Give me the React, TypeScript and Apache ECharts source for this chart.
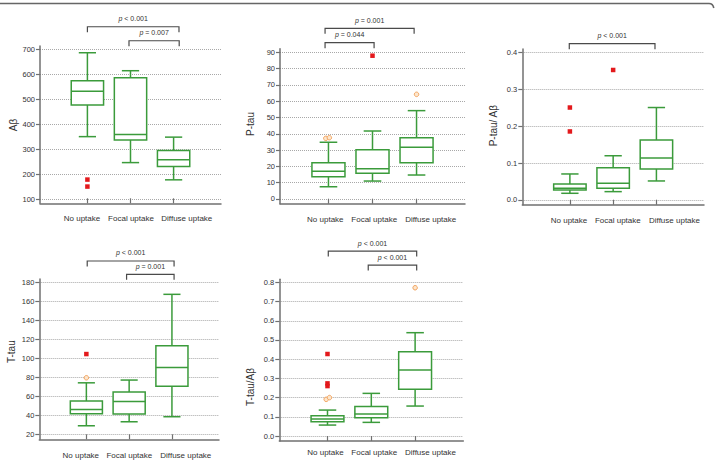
import React, { useEffect, useRef } from 'react';
import * as echarts from 'echarts';

// ---------- data ----------
const categories = ['No uptake', 'Focal uptake', 'Diffuse uptake'];
const categoryPositions = [1, 2, 3];

// box stats per category: [lower whisker, Q1, median, Q3, upper whisker]
const abStats = [
  [350, 477, 532, 574, 686],
  [246, 337, 359, 586, 614],
  [177, 230, 257, 294, 348],
];
const abTicks = [100, 200, 300, 400, 500, 600, 700];
const abExtremes = [[1, 178], [1, 150]];
const abOutliers: number[][] = [];
const abBrackets = [[1.0, 3.125, 790], [1.965, 3.13, 734]];
const abPValues = ['< 0.001', '= 0.007'];

const ptauStats = [
  [7.5, 13.7, 17.0, 22.3, 34.8],
  [11.0, 15.8, 18.6, 30.2, 41.7],
  [14.7, 22.3, 31.7, 37.6, 54.2],
];
const ptauTicks = [0, 10, 20, 30, 40, 50, 60, 70, 80, 90];
const ptauExtremes = [[2, 87.9]];
const ptauOutliers = [[0.94, 37.2], [1.02, 37.6], [3, 64.2]];
const ptauBrackets = [[0.923, 2.945, 104.7], [0.923, 2.036, 95.9]];
const ptauPValues = ['= 0.001', '= 0.044'];

const ptauAbStats = [
  [0.018, 0.027, 0.032, 0.043, 0.0705],
  [0.0225, 0.032, 0.045, 0.0875, 0.12],
  [0.0515, 0.084, 0.114, 0.163, 0.251],
];
const ptauAbTicks = [0, 0.1, 0.2, 0.3, 0.4];
const ptauAbExtremes = [[1, 0.251], [1, 0.186], [2, 0.353]];
const ptauAbOutliers: number[][] = [];
const ptauAbBrackets = [[0.986, 2.967, 0.4244]];
const ptauAbPValues = ['< 0.001'];

const ttauStats = [
  [29.4, 41.9, 46.6, 55.3, 74.5],
  [33.6, 41.7, 55.0, 64.8, 77.4],
  [38.9, 71.0, 90.7, 113.4, 167.4],
];
const ttauTicks = [20, 40, 60, 80, 100, 120, 140, 160, 180];
const ttauExtremes = [[1, 104.7]];
const ttauOutliers = [[1, 79.8]];
const ttauBrackets = [[1.02, 3.05, 202.4], [1.94, 3.05, 188.4]];
const ttauPValues = ['< 0.001', '= 0.001'];

const ttauAbStats = [
  [0.057, 0.0745, 0.0885, 0.106, 0.135],
  [0.071, 0.095, 0.115, 0.153, 0.222],
  [0.156, 0.243, 0.344, 0.439, 0.538],
];
const ttauAbTicks = [0, 0.1, 0.2, 0.3, 0.4, 0.5, 0.6, 0.7, 0.8];
const ttauAbExtremes = [[1, 0.427], [1, 0.274], [1, 0.26]];
const ttauAbOutliers = [[0.97, 0.191], [1.045, 0.2], [3, 0.772]];
const ttauAbBrackets = [[1.018, 3.036, 0.963], [1.93, 3.036, 0.89]];
const ttauAbPValues = ['< 0.001', '< 0.001'];

// ---------- style / layout ----------
const FONT = '"Liberation Sans", Arial, sans-serif';
const GREEN = '#3b9b3b';
const AXIS_C = '#707070';
const GRID_C = '#a8a8a8';
const TEXT_C = '#333333';
const BRACKET_C = '#4a4a4a';
const X_MIN = -0.1;
const X_MAX = 4.1;
const BOX_W = 0.75;
const CAP_W = 0.4;

const panels = [
  { title: 'Aβ', stats: abStats, ticks: abTicks, extremes: abExtremes, outliers: abOutliers,
    brackets: abBrackets, pvals: abPValues, decimals: 0,
    grid: [40, 46, 181, 157.3], yRange: [83, 713], titlePos: [13.3, 125],
    catLabelX: [82, 131, 186.8], catLabelY: 218.3 },
  { title: 'P-tau', stats: ptauStats, ticks: ptauTicks, extremes: ptauExtremes, outliers: ptauOutliers,
    brackets: ptauBrackets, pvals: ptauPValues, decimals: 0,
    grid: [280, 48.7, 185, 155], yRange: [-2.9, 92.2], titlePos: [250, 124],
    catLabelX: [325.3, 374.2, 430.7], catLabelY: 219.3 },
  { title: 'P-tau/ Aβ', stats: ptauAbStats, ticks: ptauAbTicks, extremes: ptauAbExtremes, outliers: ptauAbOutliers,
    brackets: ptauAbBrackets, pvals: ptauAbPValues, decimals: 1,
    grid: [522.3, 49, 181.7, 155.7], yRange: [-0.013, 0.41], titlePos: [493.3, 125.7],
    catLabelX: [569, 617.8, 674.5], catLabelY: 220 },
  { title: 'T-tau', stats: ttauStats, ticks: ttauTicks, extremes: ttauExtremes, outliers: ttauOutliers,
    brackets: ttauBrackets, pvals: ttauPValues, decimals: 0,
    grid: [39.3, 279, 179.7, 160.3], yRange: [15.2, 183.5], titlePos: [11.7, 351.7],
    catLabelX: [80.8, 129.3, 185.8], catLabelY: 455 },
  { title: 'T-tau/Aβ', stats: ttauAbStats, ticks: ttauAbTicks, extremes: ttauAbExtremes, outliers: ttauAbOutliers,
    brackets: ttauAbBrackets, pvals: ttauAbPValues, decimals: 1,
    grid: [279.3, 279.3, 184, 161.7], yRange: [-0.026, 0.816], titlePos: [250, 387],
    catLabelX: [325.5, 374.2, 430.5], catLabelY: 452.7 },
];

function renderBox(params: any, api: any) {
  const x = api.value(0);
  const lo = api.coord([x, api.value(1)]);
  const q1 = api.coord([x, api.value(2)]);
  const med = api.coord([x, api.value(3)]);
  const q3 = api.coord([x, api.value(4)]);
  const hi = api.coord([x, api.value(5)]);
  const bw = api.size([BOX_W, 0], [x, 0])[0];
  const cw = api.size([CAP_W, 0], [x, 0])[0];
  const cx = med[0];
  const st = { stroke: GREEN, lineWidth: 1.5, fill: 'none' };
  return {
    type: 'group',
    children: [
      { type: 'line', shape: { x1: cx, y1: hi[1], x2: cx, y2: q3[1] }, style: st },
      { type: 'line', shape: { x1: cx, y1: q1[1], x2: cx, y2: lo[1] }, style: st },
      { type: 'line', shape: { x1: cx - cw / 2, y1: hi[1], x2: cx + cw / 2, y2: hi[1] }, style: st },
      { type: 'line', shape: { x1: cx - cw / 2, y1: lo[1], x2: cx + cw / 2, y2: lo[1] }, style: st },
      { type: 'rect', shape: { x: cx - bw / 2, y: q3[1], width: bw, height: q1[1] - q3[1] },
        style: { stroke: GREEN, lineWidth: 1.5, fill: '#ffffff' } },
      { type: 'line', shape: { x1: cx - bw / 2, y1: med[1], x2: cx + bw / 2, y2: med[1] }, style: st },
    ],
  };
}

function makeBracketRenderer(pvals: string[]) {
  return (params: any, api: any) => {
    const y = api.value(2);
    const p1 = api.coord([api.value(0), y]);
    const p2 = api.coord([api.value(1), y]);
    const T = 5.5;
    return {
      type: 'group',
      children: [
        { type: 'polyline',
          shape: { points: [[p1[0], p1[1] + T], [p1[0], p1[1]], [p2[0], p2[1]], [p2[0], p2[1] + T]] },
          style: { stroke: BRACKET_C, lineWidth: 1.2, fill: 'none' } },
        { type: 'text', x: (p1[0] + p2[0]) / 2, y: p1[1] - 8,
          style: {
            text: '{i|p} ' + pvals[params.dataIndex],
            rich: { i: { fontStyle: 'italic', fontSize: 7, fontFamily: FONT, fill: TEXT_C } },
            fontSize: 7, fontFamily: FONT, fill: TEXT_C, align: 'center', verticalAlign: 'middle',
          } },
      ],
    };
  };
}

function buildOption() {
  const grid: any[] = [];
  const xAxis: any[] = [];
  const yAxis: any[] = [];
  const series: any[] = [];
  const graphic: any[] = [];
  const axisLineStyle = { color: AXIS_C, width: 1.5 };

  panels.forEach((p, i) => {
    grid.push({ left: p.grid[0], top: p.grid[1], width: p.grid[2], height: p.grid[3] });
    xAxis.push({
      type: 'value', gridIndex: i, min: X_MIN, max: X_MAX,
      axisLine: { show: true, onZero: false, lineStyle: axisLineStyle },
      axisTick: { show: true, inside: true, length: 5, customValues: categoryPositions,
        lineStyle: { color: AXIS_C, width: 1.2 } },
      axisLabel: { show: false },
      splitLine: { show: false },
    });
    yAxis.push({
      type: 'value', gridIndex: i, min: p.yRange[0], max: p.yRange[1],
      axisLine: { show: true, onZero: false, lineStyle: axisLineStyle },
      axisTick: { show: true, length: 4, customValues: p.ticks, lineStyle: { color: AXIS_C, width: 1.2 } },
      axisLabel: { show: true, customValues: p.ticks, formatter: (v: number) => v.toFixed(p.decimals),
        fontSize: 7.5, color: TEXT_C, margin: 5, fontFamily: FONT },
      splitLine: { show: true, lineStyle: { type: 'dotted', color: GRID_C, width: 1 } },
    });
    series.push({
      type: 'custom', xAxisIndex: i, yAxisIndex: i, silent: true, z: 3,
      data: p.stats.map((s, k) => [categoryPositions[k], ...s]),
      encode: { x: 0, y: [1, 2, 3, 4, 5] },
      renderItem: renderBox,
    });
    series.push({
      type: 'scatter', xAxisIndex: i, yAxisIndex: i, silent: true, z: 4,
      symbol: 'rect', symbolSize: 4.5, data: p.extremes,
      itemStyle: { color: '#e3191c', opacity: 1 },
    });
    series.push({
      type: 'scatter', xAxisIndex: i, yAxisIndex: i, silent: true, z: 4,
      symbol: 'circle', symbolSize: 4.5, data: p.outliers,
      itemStyle: { color: '#fde6cc', borderColor: '#f2a35e', borderWidth: 1, opacity: 1 },
    });
    series.push({
      type: 'custom', xAxisIndex: i, yAxisIndex: i, silent: true, z: 5, clip: false,
      data: p.brackets, encode: { x: [0, 1], y: 2 },
      renderItem: makeBracketRenderer(p.pvals),
    });
    graphic.push({
      type: 'text', x: p.titlePos[0], y: p.titlePos[1], rotation: Math.PI / 2, silent: true,
      style: { text: p.title, fontSize: 10, fontFamily: FONT, fill: TEXT_C, align: 'center', verticalAlign: 'middle' },
    });
    categories.forEach((name, k) => {
      graphic.push({
        type: 'text', x: p.catLabelX[k], y: p.catLabelY, silent: true,
        style: { text: name, fontSize: 8, fontFamily: FONT, fill: TEXT_C, align: 'center', verticalAlign: 'middle' },
      });
    });
  });

  graphic.push({ type: 'line', silent: true, shape: { x1: 0, y1: 3.5, x2: 709, y2: 3.5 },
    style: { stroke: '#666', lineWidth: 1.6 } });
  graphic.push({ type: 'bezierCurve', silent: true,
    shape: { x1: 709, y1: 3.5, cpx1: 713, cpy1: 3.5, x2: 713.8, y2: 8 },
    style: { stroke: '#666', lineWidth: 1.6, fill: 'none' } });

  return {
    animation: false,
    backgroundColor: '#ffffff',
    textStyle: { fontFamily: FONT },
    grid, xAxis, yAxis, series, graphic,
  };
}

export default function App() {
  const ref = useRef<HTMLDivElement>(null);
  useEffect(() => {
    if (!ref.current) return;
    const chart = echarts.init(ref.current, null, { renderer: 'svg' });
    chart.setOption(buildOption() as any);
    return () => chart.dispose();
  }, []);
  return (
    <div
      ref={ref}
      style={{ position: 'fixed', left: 0, top: 0, width: 715, height: 463, background: '#fff' }}
    />
  );
}
